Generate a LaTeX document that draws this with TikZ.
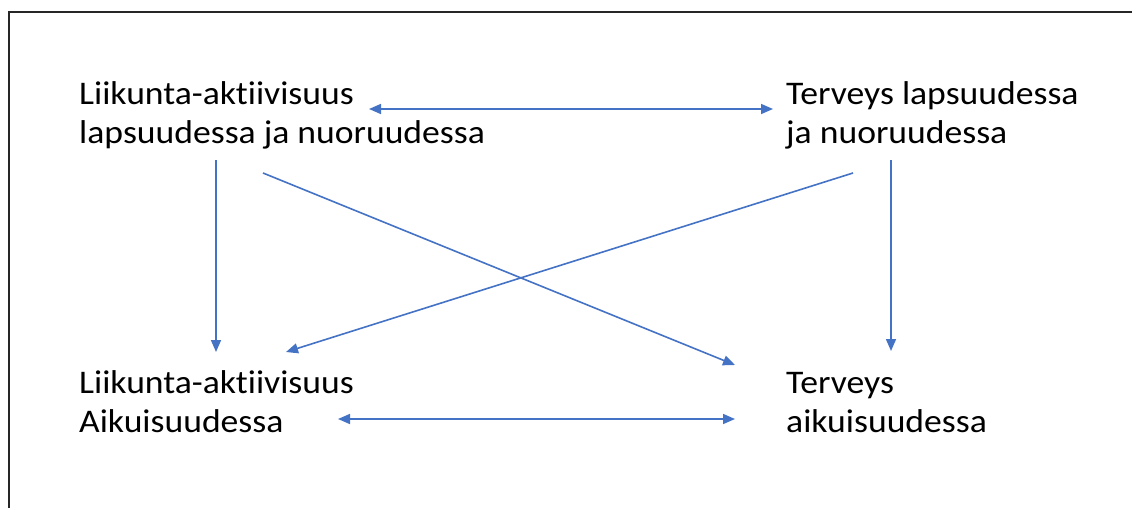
\documentclass[tikz,border=0pt]{standalone}
\usepackage{fontspec}
\setmainfont{Carlito}[FakeStretch=1.08, Ligatures=NoCommon]
\usetikzlibrary{arrows.meta}
\definecolor{officeblue}{HTML}{4472C4}
\tikzset{
  lbl/.style={anchor=base west, inner sep=0pt, align=left, font=\fontsize{33}{39}\selectfont, text=black},
  conn/.style={draw=officeblue, line width=1.6pt, -{Triangle[length=12pt,width=10pt]}},
  dconn/.style={draw=officeblue, line width=1.6pt, {Triangle[length=12pt,width=10pt]}-{Triangle[length=12pt,width=10pt]}}
}
\begin{document}
\begin{tikzpicture}[x=1pt,y=-1pt]
\useasboundingbox (0,0) rectangle (1132,508);
\coordinate (frameBL) at (9,508);
\coordinate (frameTL) at (9,12);
\coordinate (frameTR) at (1132,12);
\draw[line width=1.5pt, black!85] (frameBL) -- (frameTL) -- (frameTR);

\node[lbl] (A) at (79,143) {Liikunta-aktiivisuus\\lapsuudessa ja nuoruudessa};
\node[lbl] (B) at (786,143) {Terveys lapsuudessa\\ja nuoruudessa};
\node[lbl] (C) at (79,432) {Liikunta-aktiivisuus\\Aikuisuudessa};
\node[lbl] (D) at (786,432) {Terveys\\aikuisuudessa};

\coordinate (a1) at (369,109);
\coordinate (b1) at (773,109);
\coordinate (c1) at (338,419);
\coordinate (d1) at (735,419);
\coordinate (av) at (216,160);
\coordinate (cv) at (216,352);
\coordinate (bv) at (891,160);
\coordinate (dv) at (891,351);
\coordinate (ad) at (263,173);
\coordinate (da) at (735,365);
\coordinate (bc) at (853,173);
\coordinate (cb) at (286,352);

\draw[dconn] (a1) -- (b1);
\draw[dconn] (c1) -- (d1);
\draw[conn] (av) -- (cv);
\draw[conn] (bv) -- (dv);
\draw[conn] (ad) -- (da);
\draw[conn] (bc) -- (cb);
\end{tikzpicture}
\end{document}
